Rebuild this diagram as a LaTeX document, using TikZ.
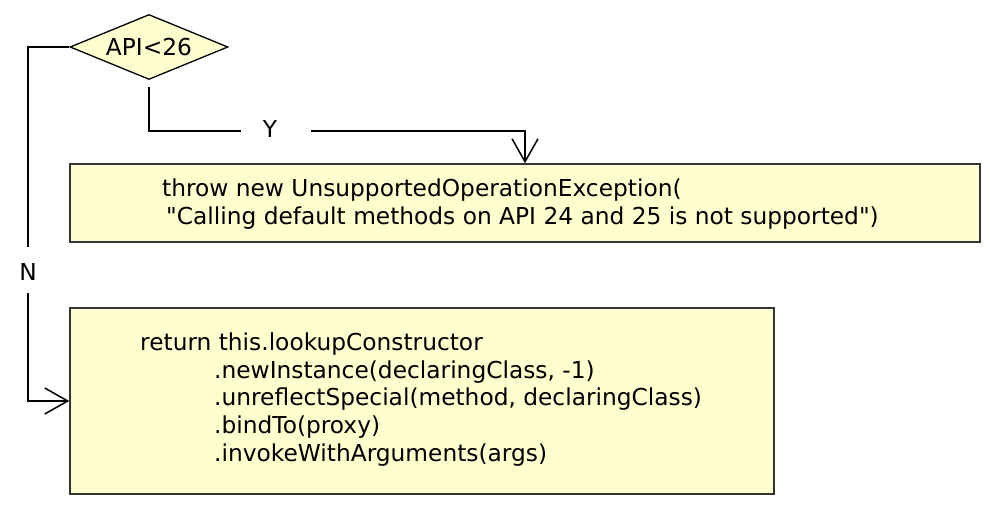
\documentclass[tikz,border=0pt]{standalone}
\usepackage{fontspec}
\newfontfamily\lbl{DejaVu Sans}
\usetikzlibrary{shapes.geometric,arrows.meta}
\definecolor{boxfill}{HTML}{FEFECE}
\definecolor{boxline}{HTML}{333333}
\begin{document}
\begin{tikzpicture}[x=1pt,y=-1pt,
  every node/.style={font=\lbl\fontsize{23.3}{28}\selectfont},
  box/.style={draw=boxline, fill=boxfill, line width=1.5pt, inner sep=0},
  dec/.style={diamond, aspect=2.43, draw=black, fill=boxfill, line width=1.3pt, inner sep=0, minimum width=158pt, minimum height=65pt},
  code/.style={anchor=base west, inner sep=0},
  flow/.style={draw=black, line width=1.5pt},
  arr/.style={flow, -{Straight Barb[length=23pt,width=26pt,line width=1.5pt]}}]
\useasboundingbox (0,0) rectangle (990,510);
\node[dec] (dia) at (149,47) {API<26};
\node[box, minimum width=910pt, minimum height=78pt] (b1) at (525,203) {};
\node[box, minimum width=704pt, minimum height=186pt] (b2) at (422,401) {};
\node[code] (t1) at (162,197) {throw new UnsupportedOperationException(};
\node[code] (t2) at (166,225) {"Calling default methods on API 24 and 25 is not supported")};
\node[code] (r1) at (140,350) {return this.lookupConstructor};
\node[code] (r2) at (214,378) {.newInstance(declaringClass, -1)};
\node[code] (r3) at (214,405) {.unreflectSpecial(method, declaringClass)};
\node[code] (r4) at (214,433) {.bindTo(proxy)};
\node[code] (r5) at (214,461) {.invokeWithArguments(args)};
\node[inner sep=0] (ylab) at (270,129) {Y};
\node[inner sep=0] (nlab) at (28,272) {N};
\coordinate (yl) at (241,131);
\coordinate (yr) at (311,131);
\coordinate (nt) at (28,247);
\coordinate (nb) at (28,293);
\draw[flow] ([yshift=-7pt]dia.south) |- (yl);
\draw[arr] (yr) -| (b1.north);
\draw[flow] (dia.west) -| (nt);
\draw[arr] (nb) |- (b2.west);
\end{tikzpicture}
\end{document}
